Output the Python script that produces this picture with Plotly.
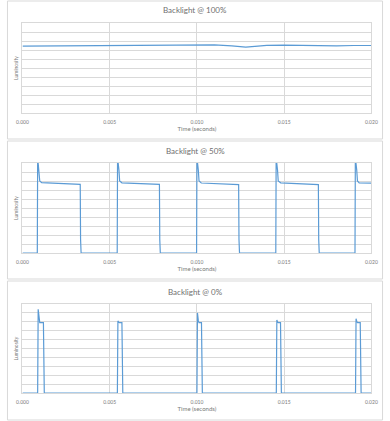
import plotly.graph_objects as go

# ---- data ----
panel_titles = ["Backlight @ 100%", "Backlight @ 50%", "Backlight @ 0%"]
x_tick_vals = [0.0, 0.005, 0.010, 0.015, 0.020]
x_tick_text = ["0.000", "0.005", "0.010", "0.015", "0.020"]

t100 = [0.0, 0.001, 0.002, 0.003, 0.004, 0.005, 0.006, 0.007, 0.008, 0.009, 0.010,
        0.011, 0.012, 0.0128, 0.0135, 0.014, 0.015, 0.016, 0.017, 0.018, 0.019, 0.020]
l100 = [7.44, 7.45, 7.47, 7.48, 7.50, 7.52, 7.53, 7.53, 7.55, 7.58, 7.62,
        7.56, 7.46, 7.33, 7.44, 7.52, 7.55, 7.50, 7.45, 7.46, 7.50, 7.50]

t50 = [0.0, 0.00085, 0.00087, 0.00095, 0.00099, 0.0011, 0.0020, 0.00331, 0.00333, 0.00336,
       0.00543, 0.00545, 0.00553, 0.00557, 0.0057, 0.0066, 0.00785, 0.00787, 0.0079,
       0.00998, 0.0100, 0.01008, 0.01012, 0.01025, 0.0111, 0.01239, 0.01241, 0.01244,
       0.01452, 0.01454, 0.01462, 0.01466, 0.0148, 0.0157, 0.01696, 0.01698, 0.01701,
       0.01906, 0.01908, 0.01916, 0.0192, 0.0193, 0.020]
l50 = [0, 0, 10.6, 9.2, 8.0, 7.82, 7.75, 7.62, 1.5, 0,
       0, 10.6, 9.2, 8.0, 7.8, 7.74, 7.62, 1.5, 0,
       0, 10.6, 9.2, 8.0, 7.78, 7.72, 7.6, 1.5, 0,
       0, 10.6, 9.2, 8.0, 7.8, 7.72, 7.6, 1.5, 0,
       0, 10.6, 9.2, 8.0, 7.78, 7.76]

t0 = [0.0, 0.00087, 0.0009, 0.00095, 0.00099, 0.0012, 0.00122, 0.00125,
      0.00544, 0.00547, 0.00552, 0.00556, 0.0057, 0.00572, 0.00575,
      0.0100, 0.01003, 0.01008, 0.01012, 0.01026, 0.01028, 0.01031,
      0.01455, 0.01458, 0.01463, 0.01467, 0.01479, 0.01481, 0.01484,
      0.01909, 0.01912, 0.01917, 0.01921, 0.01936, 0.01938, 0.01941, 0.020]
l0 = [0, 0, 9.4, 8.2, 7.9, 7.9, 1.0, 0,
      0, 8.1, 7.95, 7.9, 7.9, 1.0, 0,
      0, 9.0, 8.1, 7.9, 7.9, 1.0, 0,
      0, 8.2, 7.95, 7.9, 7.9, 1.0, 0,
      0, 8.35, 8.0, 7.9, 7.9, 1.0, 0, 0]

series = [(t100, l100), (t50, l50), (t0, l0)]

# ---- layout geometry (pixels) ----
W, H = 390, 421
plot_x = (17, 377)
plot_y = [(23, 113), (163, 253), (304, 393)]   # top, bottom in px
panel_y = [(1, 139), (141, 279), (281, 420)]
title_y = [10, 151, 292]

LINE = "#5b9bd5"
GRID = "#d9d9d9"
TXT = "#7a7a7a"
FONT = "Lato"

fig = go.Figure()
layout = dict(
    width=W, height=H, margin=dict(l=0, r=0, t=0, b=0),
    paper_bgcolor="white", plot_bgcolor="white", showlegend=False,
    font=dict(family=FONT, color=TXT), shapes=[], annotations=[],
)

for i, ((tx, ly), (pt, pb)) in enumerate(zip(series, plot_y)):
    n = "" if i == 0 else str(i + 1)
    fig.add_trace(go.Scatter(x=tx, y=ly, mode="lines", xaxis="x" + n, yaxis="y" + n,
                             line=dict(color=LINE, width=1.2), hoverinfo="skip"))
    layout["xaxis" + n] = dict(
        domain=[plot_x[0] / W, plot_x[1] / W], anchor="y" + n,
        range=[0, 0.02], tickvals=x_tick_vals, ticktext=x_tick_text,
        showgrid=True, gridcolor=GRID, gridwidth=1, zeroline=False,
        showline=True, linecolor=GRID, mirror=True,
        ticks="outside", ticklen=4, tickcolor="rgba(0,0,0,0)",
        tickfont=dict(size=5, color=TXT),
        title=dict(text="Time (seconds)", font=dict(size=6, color=TXT), standoff=2),
    )
    layout["yaxis" + n] = dict(
        domain=[1 - pb / H, 1 - pt / H], anchor="x" + n,
        range=[0, 10], dtick=1, showticklabels=False,
        showgrid=True, gridcolor=GRID, gridwidth=1, zeroline=False,
        showline=True, linecolor=GRID, mirror=True, ticks="",
        title=dict(text="Luminosity", font=dict(size=5, color=TXT), standoff=2),
    )
    layout["annotations"].append(dict(
        text=panel_titles[i], xref="paper", yref="paper", x=0.5, y=1 - title_y[i] / H,
        xanchor="center", yanchor="middle", showarrow=False,
        font=dict(size=8, color="#6f6f6f", family=FONT)))
    py0, py1 = panel_y[i]
    layout["shapes"].append(dict(
        type="rect", xref="paper", yref="paper", x0=1.5 / W, x1=1 - 1.5 / W,
        y0=1 - py1 / H, y1=1 - py0 / H, line=dict(color=GRID, width=1),
        fillcolor="rgba(0,0,0,0)", layer="below"))

fig.update_layout(**layout)
fig.write_html("out.html")
